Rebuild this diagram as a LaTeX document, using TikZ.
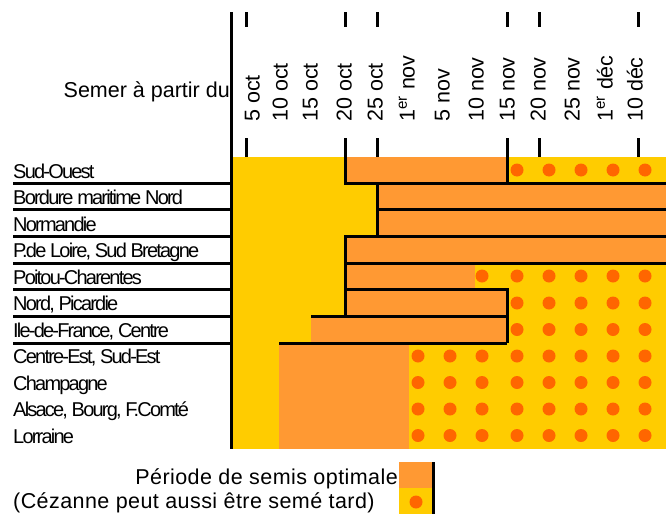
\documentclass[tikz,border=0pt]{standalone}
\usepackage{fontspec}
\setmainfont{Liberation Sans}
\newfontfamily\rowfont[LetterSpace=-9]{Liberation Sans}
\newfontfamily\legendfont[LetterSpace=2]{Liberation Sans}
\definecolor{semisyellow}{RGB}{255,204,0}
\definecolor{semisorange}{RGB}{255,153,51}
\definecolor{semisdot}{RGB}{255,102,0}
\tikzset{
  thickline/.style={line width=3pt},
  bar/.style={fill=semisorange},
  latedot/.style={fill=semisdot},
  headtext/.style={font=\fontsize{21.5}{26}\selectfont, inner sep=0pt},
  legendtext/.style={font={\legendfont\fontsize{21.5}{26}\selectfont}, inner sep=0pt},
  datelabel/.style={headtext, rotate=90, anchor=west, text height=15pt, text depth=0pt},
  rowlabel/.style={font={\rowfont\fontsize{20}{24}\selectfont}, anchor=base west, inner sep=0pt}
}

\begin{document}
\begin{tikzpicture}[x=1pt,y=-1pt]
    \useasboundingbox (0,0) rectangle (666,514);
    % draw the fields
    \fill[semisyellow] (232,157) rectangle (666,449);
    \fill[bar] (345,157) rectangle (507,183);
    \fill[bar] (377,183) rectangle (666,236);
    \fill[bar] (345,236) rectangle (666,263);
    \fill[bar] (345,263) rectangle (474.7,289);
    \fill[bar] (345,289) rectangle (507,316);
    \fill[bar] (311,316) rectangle (507,343);
    \fill[bar] (279,343) rectangle (409.3,449);
    % draw the late dots
    \foreach \y in {170,303,329.5}
        \foreach \x in {517,549,581,613,645}
            \fill[latedot] (\x,\y) circle (6.5pt);
    \foreach \x in {482,517,549,581,613,645}
        \fill[latedot] (\x,276) circle (6.5pt);
    \foreach \y in {356,382.5,409,435.5}
        \foreach \x in {418,450,482,517,549,581,613,645}
            \fill[latedot] (\x,\y) circle (6.5pt);
    % draw the axis and the ticks
    \draw[thickline] (231,12) -- (231,449);
    \foreach \x in {246,345,377,507,539,638} {
        \draw[thickline] (\x,12) -- (\x,27);
        \draw[thickline] (\x,138) -- (\x,157);
    }
    % draw the edges of the fields
    \draw[thickline] (345,138) -- (345,183) -- (666,183);
    \draw[thickline] (507,138) -- (507,183);
    \draw[thickline] (377,183) -- (377,236);
    \draw[thickline] (377,209) -- (666,209);
    \draw[thickline] (666,236) -- (345,236) -- (345,316);
    \draw[thickline] (345,263) -- (666,263);
    \draw[thickline] (345,289) -- (507,289) -- (507,343);
    \draw[thickline] (311,316) -- (507,316);
    \draw[thickline] (279,343) -- (507,343);
    \foreach \y in {183,209,236,263,289,316,343}
        \draw[thickline] (13,\y) -- (231,\y);
    % the texts
    \node[headtext, anchor=base east] (semer) at (230,97) {Semer à partir du};
    \foreach \x/\d [count=\i] in {252/5 oct, 280/10 oct, 310/15 oct, 344/20 oct,
        375/25 oct, 407/1\textsuperscript{er} nov, 442/5 nov, 476/10 nov, 507/15 nov,
        538/20 nov, 572/25 nov, 605/1\textsuperscript{er} déc, 635/10 déc}
        \node[datelabel] (d\i) at (\x,122) {\d};
    \foreach \t [count=\i from 0] in {Sud-Ouest, Bordure maritime Nord, Normandie,
        {P.de Loire, Sud Bretagne}, Poitou-Charentes, {Nord, Picardie},
        {Ile-de-France, Centre}, {Centre-Est, Sud-Est}, Champagne,
        {Alsace, Bourg, F.Comté}, Lorraine}
        \node[rowlabel] (r\i) at (13,{178+26.5*\i}) {\t};
    % the legend
    \fill[bar] (399,462) rectangle (432,488);
    \fill[semisyellow] (399,488) rectangle (432,514);
    \fill[latedot] (416,502) circle (6.5pt);
    \draw[thickline] (433,462) -- (433,514);
    \node[legendtext, anchor=base east] (optimal) at (398,484) {Période de semis optimale};
    \node[legendtext, anchor=base west] (tard) at (13,508) {(Cézanne peut aussi être semé tard)};
\end{tikzpicture}
\end{document}
